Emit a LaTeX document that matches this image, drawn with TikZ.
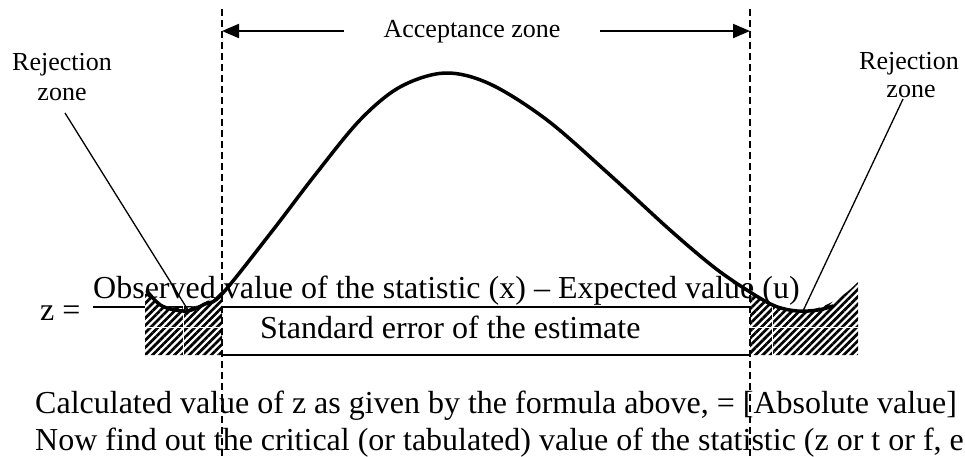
\documentclass[tikz,border=0pt]{standalone}
\usepackage{fontspec}
\setmainfont{Liberation Serif}
\usetikzlibrary{arrows.meta,patterns.meta}
\begin{document}
\begin{tikzpicture}[x=1pt,y=-1pt,
  txt/.style={inner sep=0pt, font=\fontsize{32}{38}\selectfont},
  lbl/.style={inner sep=0pt, font=\fontsize{26}{30}\selectfont},
  guide/.style={line width=1.5pt, dash pattern=on 7pt off 4pt},
  zonearrow/.style={line width=2pt, -{Triangle[length=17pt,width=14pt]}},
  leader/.style={line width=1.3pt},
  rulebar/.style={line width=2pt},
  bell/.style={line width=3.5pt, line join=round, line cap=round},
  hatch/.style={pattern={Lines[angle=45,distance=5.2pt,line width=2.7pt]}},
  gap/.style={white, line width=0.8pt}]
\useasboundingbox (0,0) rectangle (965,456);
\clip (0,0) rectangle (965,456);

% fraction rule and bottom rule
\coordinate (fracL) at (93,307);
\coordinate (fracR) at (750,307);
\draw[rulebar] (fracL) -- (fracR);
\coordinate (botL) at (222,355);
\coordinate (botR) at (750,355);
\draw[rulebar] (botL) -- (botR);

% hatched rejection areas
\path[fill=white] (145,355) -- (145,292) .. controls (160,312) and (195,316) .. (222,290) -- (222,355) -- cycle;
\path[hatch] (145,355) -- (145,292) .. controls (160,312) and (195,316) .. (222,290) -- (222,355) -- cycle;
\path[fill=white] (750,355) -- (750,292) .. controls (770,308) and (790,314) .. (810,310) .. controls (830,306) and (845,295) .. (858,282) -- (858,355) -- cycle;
\path[hatch] (750,355) -- (750,292) .. controls (770,308) and (790,314) .. (810,310) .. controls (830,306) and (845,295) .. (858,282) -- (858,355) -- cycle;
\draw[gap] (145,327) -- (222,327);
\draw[gap] (183,305) -- (183,355);
\draw[gap] (750,327) -- (858,327);
\draw[gap] (772,305) -- (772,355);

% texts
\node[lbl, anchor=base] (acc) at (472,37) {Acceptance zone};
\node[lbl, anchor=base] (rejL1) at (62,70) {Rejection};
\node[lbl, anchor=base] (rejL2) at (62,100) {zone};
\node[lbl, anchor=base] (rejR1) at (909,69) {Rejection};
\node[lbl, anchor=base] (rejR2) at (911,97) {zone};
\node[txt, anchor=base west] (zeq) at (40,320) {z =};
\node[txt, anchor=base west] (num) at (93,298) {Observed value of the statistic (x) – Expected value (u)};
\node[txt, anchor=base west] (den) at (260,338) {Standard error of the estimate};
\node[txt, anchor=base west] (calc) at (35,413) {Calculated value of z as given by the formula above, = [Absolute value]};
\node[txt, anchor=base west] (now) at (35,450) {Now find out the critical (or tabulated) value of the statistic (z or t or f, e};

% bell curve
\draw[bell] plot[smooth, tension=0.55] coordinates {(147,291) (162,306) (186,311) (205,304) (222,294) (273,230) (315,175) (360,120) (400,87) (445,73) (490,84) (547,120) (610,175) (670,230) (715,268) (750,292) (775,306) (797,311) (818,310) (833,306)};

% leaders
\coordinate (leadLtop) at (65,113);
\coordinate (leadLend) at (188,310);
\draw[leader] (leadLtop) -- (leadLend);
\coordinate (leadRtop) at (903,99);
\coordinate (leadRend) at (803,311);
\draw[leader] (leadRtop) -- (leadRend);

% dashed guides
\coordinate (gLt) at (222,9);
\coordinate (gLb) at (222,456);
\coordinate (gRt) at (750,9);
\coordinate (gRb) at (750,456);
\draw[guide] (gLt) -- (gLb);
\draw[guide] (gRt) -- (gRb);

% acceptance arrows
\coordinate (aLtail) at (344,31);
\coordinate (aLtip) at (222,31);
\coordinate (aRtail) at (600,31);
\coordinate (aRtip) at (750,31);
\draw[zonearrow] (aLtail) -- (aLtip);
\draw[zonearrow] (aRtail) -- (aRtip);
\end{tikzpicture}
\end{document}
